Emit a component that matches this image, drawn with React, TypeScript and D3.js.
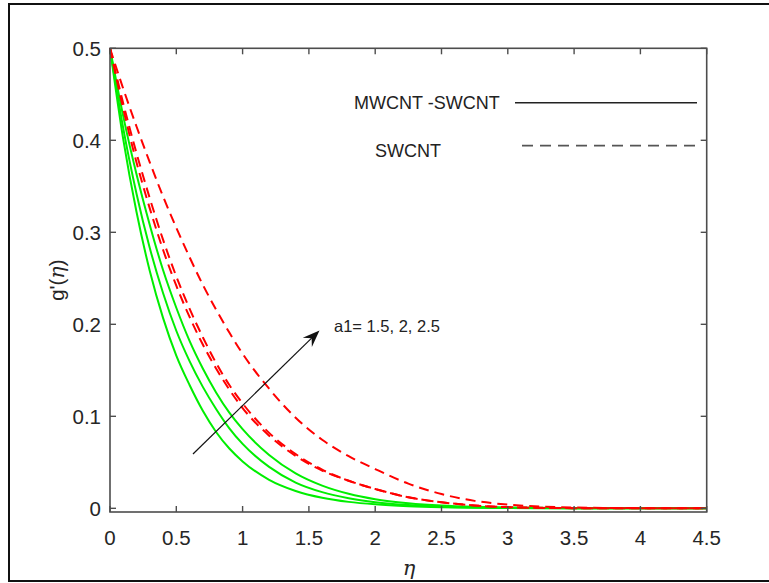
import React from "react";
import * as d3 from "d3";

const etaValues = [0, 0.1, 0.2, 0.3, 0.4, 0.5, 0.6, 0.7, 0.8, 0.9, 1.0, 1.2, 1.4, 1.6, 1.8, 2.0, 2.25, 2.5, 2.75, 3.0, 3.5, 4.0, 4.5];

// MWCNT-SWCNT (solid green), a1 = 1.5, 2, 2.5
const hybridA15 = [0.5, 0.401, 0.322, 0.258, 0.207, 0.166, 0.134, 0.106, 0.083, 0.065, 0.051, 0.031, 0.0189, 0.0115, 0.007, 0.0043, 0.0023, 0.0012, 0.0006, 0.0003, 0.0001, 0, 0];
const hybridA2 = [0.5, 0.413, 0.342, 0.283, 0.234, 0.193, 0.16, 0.132, 0.108, 0.087, 0.07, 0.045, 0.028, 0.0176, 0.011, 0.0067, 0.0035, 0.0018, 0.0009, 0.0004, 0.0001, 0, 0];
const hybridA25 = [0.5, 0.426, 0.363, 0.308, 0.259, 0.218, 0.182, 0.152, 0.126, 0.104, 0.086, 0.058, 0.038, 0.0247, 0.0158, 0.0099, 0.0056, 0.003, 0.0016, 0.0008, 0.0002, 0, 0];

// SWCNT (dashed red), a1 = 1.5, 2, 2.5
const swcntA15 = [0.5, 0.434, 0.376, 0.326, 0.281, 0.242, 0.208, 0.178, 0.152, 0.129, 0.109, 0.079, 0.057, 0.041, 0.03, 0.021, 0.012, 0.0066, 0.0031, 0.0013, 0.0002, 0, 0];
const swcntA2 = [0.5, 0.44, 0.386, 0.337, 0.292, 0.252, 0.217, 0.186, 0.158, 0.134, 0.114, 0.082, 0.059, 0.042, 0.03, 0.021, 0.012, 0.0066, 0.0031, 0.0013, 0.0002, 0, 0];
const swcntA25 = [0.5, 0.456, 0.415, 0.376, 0.339, 0.305, 0.273, 0.243, 0.216, 0.191, 0.168, 0.13, 0.0985, 0.0745, 0.0567, 0.0427, 0.0268, 0.0155, 0.0081, 0.004, 0.0009, 0.0002, 0];

const xTicks = [0, 0.5, 1, 1.5, 2, 2.5, 3, 3.5, 4, 4.5];
const yTicks = [0, 0.1, 0.2, 0.3, 0.4, 0.5];

const legendLabels = ["MWCNT -SWCNT", "SWCNT"];
const annotationText = "a1= 1.5, 2, 2.5";

export default function App() {
  const W = 769;
  const H = 583;
  const left = 110, right = 706.7, top = 48.3, bottom = 512;
  const x = d3.scaleLinear().domain([0, 4.5]).range([left, right]);
  const y = d3.scaleLinear().domain([-0.004, 0.5]).range([bottom, top]);

  const line = d3
    .line<number>()
    .x((_, i) => x(etaValues[i]))
    .y((d) => y(d))
    .curve(d3.curveMonotoneX);

  const greens = [hybridA15, hybridA2, hybridA25];
  const reds = [swcntA15, swcntA2, swcntA25];
  const font = "'Liberation Sans', Arial, sans-serif";
  const tickLen = 6;
  const axisColor = "#4d4d4d";

  // arrow
  const ax0 = 193, ay0 = 454, ax1 = 319.5, ay1 = 330.5;
  const ang = Math.atan2(ay1 - ay0, ax1 - ax0);
  const hl = 17, hw = 6.5, notch = 11;
  const ux = Math.cos(ang), uy = Math.sin(ang);
  const px = -uy, py = ux;
  const bx = ax1 - ux * hl, by = ay1 - uy * hl;
  const nx = ax1 - ux * notch, ny = ay1 - uy * notch;
  const head = `M${ax1},${ay1} L${bx + px * hw},${by + py * hw} L${nx},${ny} L${bx - px * hw},${by - py * hw} Z`;

  return (
    <svg width={W} height={H} style={{ position: "absolute", left: 0, top: 0, background: "#fff" }}>
      <rect x={0} y={0} width={W} height={H} fill="#fff" />
      <rect x={9} y={4} width={770} height={577} fill="none" stroke="#111" strokeWidth={2} />

      {/* curves */}
      <g fill="none">
        {greens.map((s, i) => (
          <path key={"g" + i} d={line(s) || ""} stroke="#00ee00" strokeWidth={2} />
        ))}
        {reds.map((s, i) => (
          <path key={"r" + i} d={line(s) || ""} stroke="#ff0000" strokeWidth={2} strokeDasharray="10,6" />
        ))}
      </g>

      {/* axes box */}
      <rect x={left} y={top} width={right - left} height={bottom - top} fill="none" stroke={axisColor} strokeWidth={1.6} />
      {xTicks.map((t) => (
        <g key={"xt" + t}>
          <line x1={x(t)} x2={x(t)} y1={bottom} y2={bottom - tickLen} stroke={axisColor} strokeWidth={1.4} />
          <line x1={x(t)} x2={x(t)} y1={top} y2={top + tickLen} stroke={axisColor} strokeWidth={1.4} />
          <text x={x(t)} y={545} textAnchor="middle" fontFamily={font} fontSize={20.5} fill="#262626">
            {String(t)}
          </text>
        </g>
      ))}
      {yTicks.map((t) => (
        <g key={"yt" + t}>
          <line x1={left} x2={left + tickLen} y1={y(t)} y2={y(t)} stroke={axisColor} strokeWidth={1.4} />
          <line x1={right} x2={right - tickLen} y1={y(t)} y2={y(t)} stroke={axisColor} strokeWidth={1.4} />
          <text x={101} y={y(t) + 7.5} textAnchor="end" fontFamily={font} fontSize={20.5} fill="#262626">
            {String(t)}
          </text>
        </g>
      ))}

      {/* axis labels */}
      <text x={409} y={575} textAnchor="middle" fontFamily="'DejaVu Serif', 'Liberation Serif', serif" fontStyle="italic" fontSize={21} fill="#262626">
        η
      </text>
      <text
        transform={`translate(64,${(top + bottom) / 2}) rotate(-90)`}
        textAnchor="middle"
        fontFamily={font}
        fontSize={20.5}
        fill="#262626"
      >
        g'(<tspan fontFamily="'DejaVu Serif', 'Liberation Serif', serif" fontStyle="italic">η</tspan>)
      </text>

      {/* legend */}
      <text x={354} y={109} fontFamily={font} fontSize={18} fill="#222">
        {legendLabels[0]}
      </text>
      <line x1={515} x2={697} y1={102.7} y2={102.7} stroke="#222" strokeWidth={1.5} />
      <text x={375} y={157} fontFamily={font} fontSize={18} fill="#222">
        {legendLabels[1]}
      </text>
      <line x1={522} x2={702} y1={145.7} y2={145.7} stroke="#555" strokeWidth={1.8} strokeDasharray="11,7" />

      {/* annotation */}
      <line x1={ax0} y1={ay0} x2={nx} y2={ny} stroke="#111" strokeWidth={1.2} />
      <path d={head} fill="#111" />
      <text x={334} y={332} fontFamily={font} fontSize={16.5} fill="#222">
        {annotationText}
      </text>
    </svg>
  );
}
